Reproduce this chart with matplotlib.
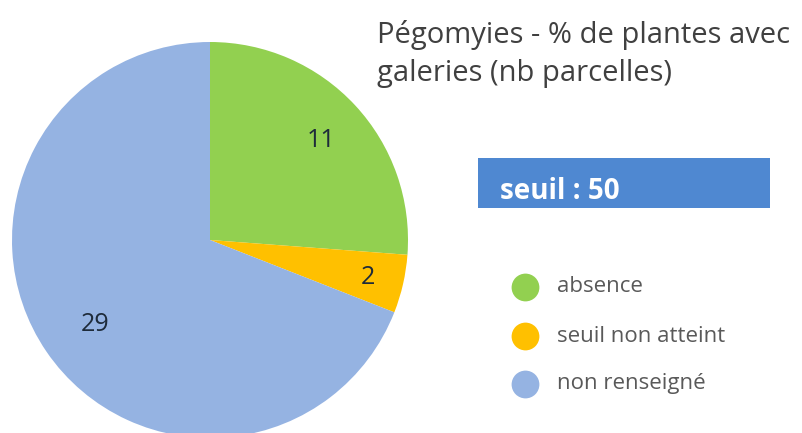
import matplotlib
matplotlib.use("Agg")
import matplotlib.pyplot as plt
from matplotlib.patches import Rectangle
import numpy as np

categories = ["absence", "seuil non atteint", "non renseigné"]
values = [11, 2, 29]
colors = ["#92D050", "#FFC000", "#95B3E2"]
title_text = "Pégomyies - % de plantes avec\ngaleries (nb parcelles)"
threshold_text = "seuil : 50"

W, H = 802, 433
fig = plt.figure(figsize=(W / 100, H / 100), dpi=100)
fig.patch.set_facecolor("white")
FONT = ["Open Sans", "DejaVu Sans"]

# pie axes in pixel geometry: center (210, 240 from top), radius 198
cx, cy, r = 210, 240, 198
ax = fig.add_axes([(cx - r) / W, (H - cy - r) / H, 2 * r / W, 2 * r / H])
wedges, _ = ax.pie(values, colors=colors, startangle=90, counterclock=False,
                   radius=1, wedgeprops=dict(linewidth=0))
ax.set_xlim(-1, 1)
ax.set_ylim(-1, 1)
ax.set_aspect("equal")
ax.axis("off")

# data labels (radius fraction, angle offset in degrees)
label_r = [0.75, 0.82, 0.72]
label_off = [-1, -0.6, 2]
total = sum(values)
start = 90
for v, lr, off in zip(values, label_r, label_off):
    ang = start - v / total * 360 / 2 + off
    start -= v / total * 360
    x = lr * np.cos(np.radians(ang))
    y = lr * np.sin(np.radians(ang))
    ax.text(x, y, str(v), ha="center", va="center", fontsize=18,
            color="#1E2B3A", family=FONT)

# title
fig.text(377 / W, 1 - 20 / H, title_text, ha="left", va="top", fontsize=21,
         color="#404040", family=FONT, linespacing=1.4)

# threshold box
fig.patches.append(Rectangle((478 / W, 1 - 208 / H), (770 - 478) / W, 50 / H,
                             transform=fig.transFigure, facecolor="#4F88D1",
                             edgecolor="none"))
fig.text(500 / W, 1 - 192 / H, threshold_text, ha="left", va="center",
         fontsize=20, fontweight="bold", color="white", family=FONT)

# legend
ys = [287, 336, 384]
for cat, col, y in zip(categories, colors, ys):
    fig.add_artist(plt.Line2D([525 / W], [1 - y / H], marker="o", markersize=20,
                              color=col, markeredgewidth=0, linestyle="none",
                              transform=fig.transFigure))
    fig.text(557 / W, 1 - y / H, cat, ha="left", va="center", fontsize=16,
             color="#595959", family=FONT)

fig.savefig("out.png", dpi=100)
